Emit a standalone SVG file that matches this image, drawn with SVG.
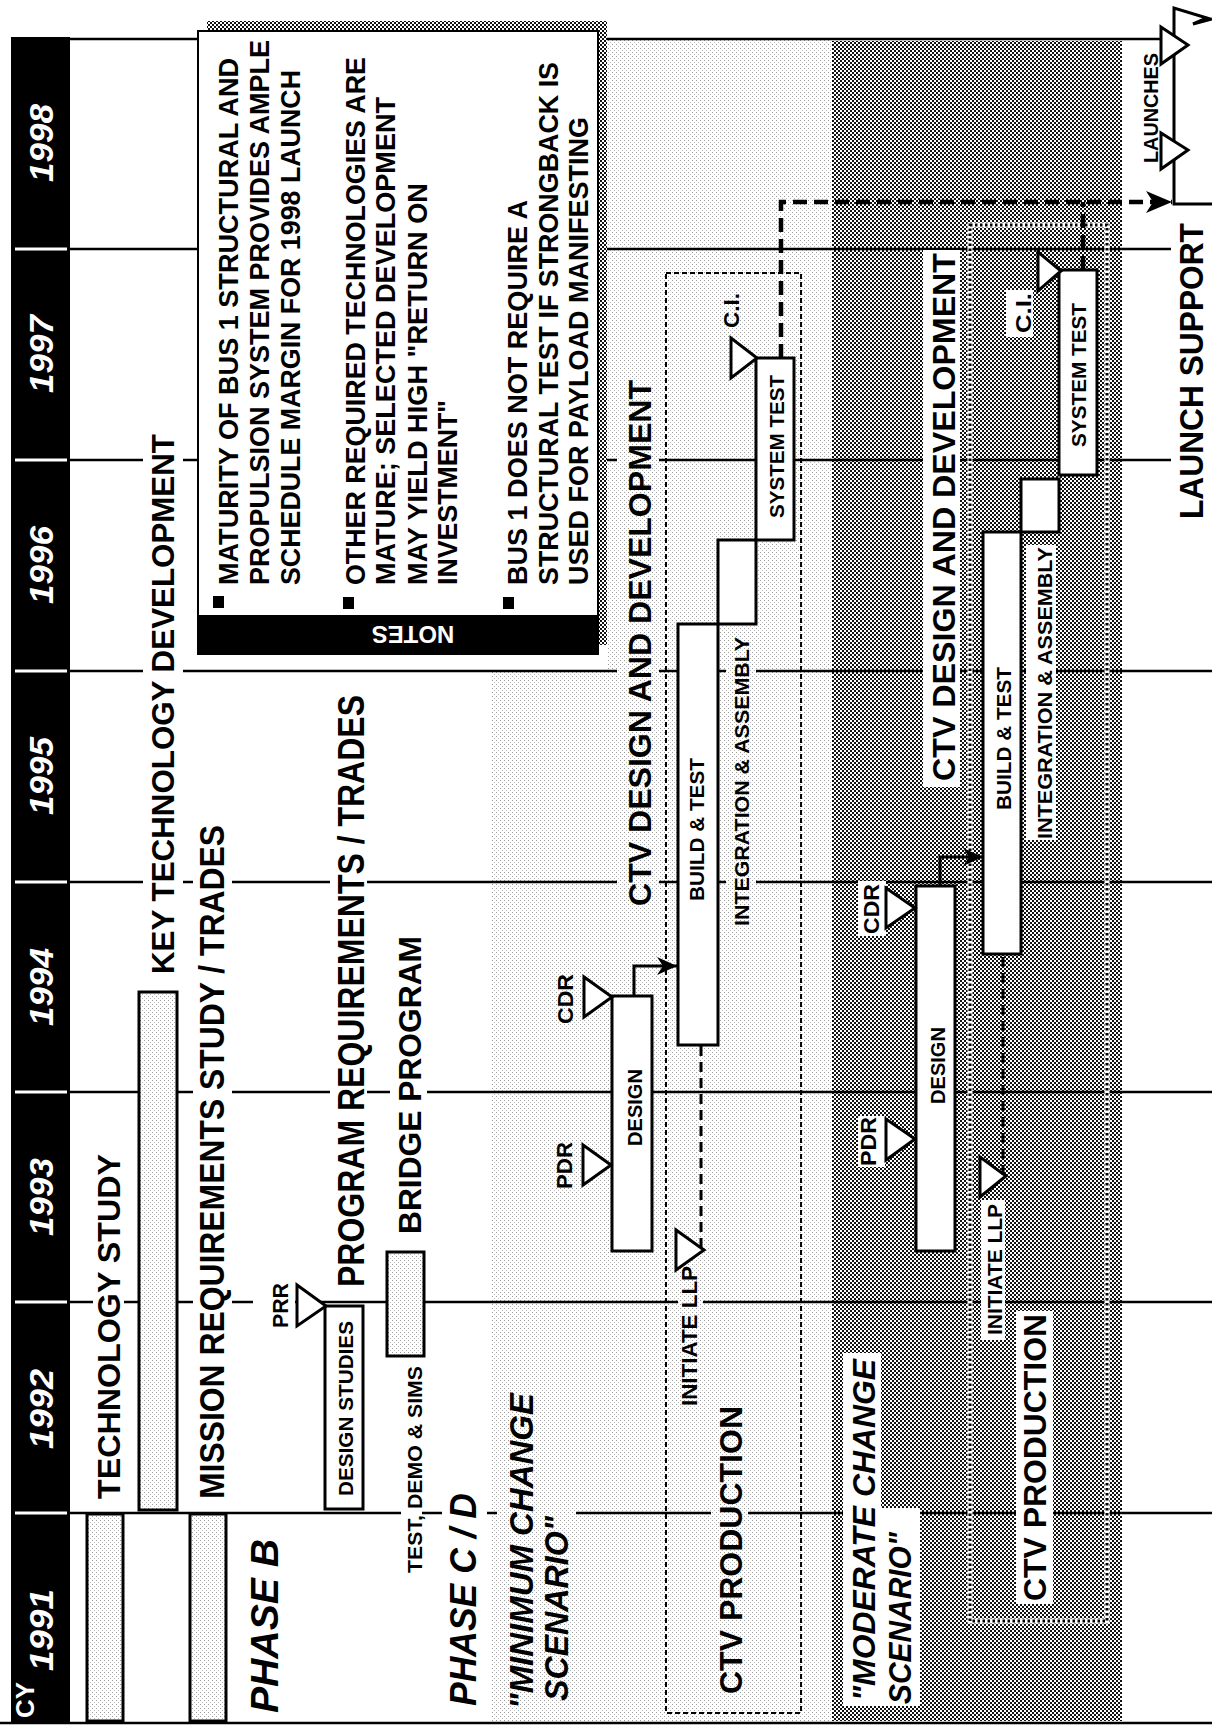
<svg xmlns="http://www.w3.org/2000/svg" width="1212" height="1727" viewBox="0 0 1212 1727">
<defs>
<style>
.t{font-family:"Liberation Sans",Arial,Helvetica,sans-serif;font-weight:bold;fill:#000}
.i{font-style:italic}
.wt{fill:#fff}
.g{stroke:#000;stroke-width:2.5;fill:none}
.bar{stroke:#000;stroke-width:3}
.bw{fill:#fff}
.bl{fill:url(#lt)}
.kw{fill:#fff}
.kl{fill:url(#lt)}
.tri{fill:#fff;stroke:#000;stroke-width:3}
.dash{fill:none;stroke:#000;stroke-width:3;stroke-dasharray:10 6}
.heavy{fill:none;stroke:#000;stroke-width:4.5;stroke-dasharray:14 7}
.arr{fill:none;stroke:#000;stroke-width:3}
</style>
<pattern id="lt" width="4" height="4" patternUnits="userSpaceOnUse"><rect width="4" height="4" fill="#fff"/><rect width="1" height="1" fill="#999"/><rect x="2" y="2" width="1" height="1" fill="#bbb"/></pattern>
<pattern id="dk" width="4" height="4" patternUnits="userSpaceOnUse"><rect width="4" height="4" fill="#fff"/><rect width="2" height="2" fill="#111"/><rect x="2" y="2" width="2" height="2" fill="#111"/></pattern>
<marker id="ah" markerUnits="userSpaceOnUse" viewBox="0 0 20 18" refX="20" refY="9" markerWidth="20" markerHeight="18" orient="auto"><path d="M0,0L20,9L0,18L6,9Z" fill="#000"/></marker>
<marker id="ah2" markerUnits="userSpaceOnUse" viewBox="0 0 26 22" refX="26" refY="11" markerWidth="26" markerHeight="22" orient="auto"><path d="M0,0L26,11L0,22L7,11Z" fill="#000"/></marker>
</defs>
<rect width="1212" height="1727" fill="#fff"/>
<g id="regions">
<path d="M607,39H832V1721H492V672H607Z" fill="url(#lt)"/>
<rect x="832" y="41" width="290" height="1680" fill="url(#dk)"/>
</g>
<g id="grid" class="g">
<line x1="70" y1="39" x2="1161" y2="39"/>
<line x1="70" y1="249" x2="1171" y2="249"/>
<line x1="70" y1="460" x2="1171" y2="460"/>
<line x1="70" y1="671" x2="1212" y2="671"/>
<line x1="70" y1="882" x2="1212" y2="882"/>
<line x1="70" y1="1092" x2="1212" y2="1092"/>
<line x1="70" y1="1302" x2="1212" y2="1302"/>
<line x1="70" y1="1513" x2="1212" y2="1513"/>
<line x1="0" y1="1723" x2="1212" y2="1723"/>
</g>
<g id="years">
<rect x="11" y="37" width="59" height="1687" fill="#000"/>
<path d="M15,249H67M15,460H67M15,671H67M15,882H67M15,1092H67M15,1302H67M15,1513H67" stroke="#fff" stroke-width="3"/>
<text class="t i wt" font-size="34" text-anchor="middle" textLength="78" lengthAdjust="spacingAndGlyphs" x="53" y="143" transform="rotate(-90 53 143)">1998</text>
<text class="t i wt" font-size="34" text-anchor="middle" textLength="78" lengthAdjust="spacingAndGlyphs" x="53" y="354" transform="rotate(-90 53 354)">1997</text>
<text class="t i wt" font-size="34" text-anchor="middle" textLength="78" lengthAdjust="spacingAndGlyphs" x="53" y="565" transform="rotate(-90 53 565)">1996</text>
<text class="t i wt" font-size="34" text-anchor="middle" textLength="78" lengthAdjust="spacingAndGlyphs" x="53" y="776" transform="rotate(-90 53 776)">1995</text>
<text class="t i wt" font-size="34" text-anchor="middle" textLength="78" lengthAdjust="spacingAndGlyphs" x="53" y="987" transform="rotate(-90 53 987)">1994</text>
<text class="t i wt" font-size="34" text-anchor="middle" textLength="78" lengthAdjust="spacingAndGlyphs" x="53" y="1197" transform="rotate(-90 53 1197)">1993</text>
<text class="t i wt" font-size="34" text-anchor="middle" textLength="80" lengthAdjust="spacingAndGlyphs" x="53" y="1409" transform="rotate(-90 53 1409)">1992</text>
<text class="t i wt" font-size="34" text-anchor="middle" textLength="82" lengthAdjust="spacingAndGlyphs" x="53" y="1630" transform="rotate(-90 53 1630)">1991</text>
<text class="t wt" font-size="25" font-weight="normal" text-anchor="middle" textLength="36" lengthAdjust="spacingAndGlyphs" x="34" y="1700" transform="rotate(-90 34 1700)">CY</text>
</g>
<g id="notes">
<rect x="207" y="21" width="400" height="624" fill="url(#dk)"/>
<rect x="198" y="31" width="400" height="623" fill="#fff" stroke="#000" stroke-width="2"/>
<rect x="198" y="615" width="400" height="39" fill="#000"/>
<text class="t wt" font-size="24" text-anchor="middle" transform="translate(413 634) rotate(180)" x="0" y="8.5">NOTES</text>
<rect x="213" y="596" width="11" height="12" fill="#000"/>
<rect x="343" y="597" width="11" height="12" fill="#000"/>
<rect x="503" y="597" width="11" height="12" fill="#000"/>
<text class="t" font-size="27" textLength="527" lengthAdjust="spacingAndGlyphs" x="238" y="585" transform="rotate(-90 238 585)">MATURITY OF BUS 1 STRUCTURAL AND</text>
<text class="t" font-size="27" textLength="545" lengthAdjust="spacingAndGlyphs" x="269" y="585" transform="rotate(-90 269 585)">PROPULSION SYSTEM PROVIDES AMPLE</text>
<text class="t" font-size="27" textLength="515" lengthAdjust="spacingAndGlyphs" x="300" y="585" transform="rotate(-90 300 585)">SCHEDULE MARGIN FOR 1998 LAUNCH</text>
<text class="t" font-size="27" textLength="528" lengthAdjust="spacingAndGlyphs" x="365" y="585" transform="rotate(-90 365 585)">OTHER REQUIRED TECHNOLOGIES ARE</text>
<text class="t" font-size="27" textLength="488" lengthAdjust="spacingAndGlyphs" x="395" y="585" transform="rotate(-90 395 585)">MATURE; SELECTED DEVELOPMENT</text>
<text class="t" font-size="27" textLength="402" lengthAdjust="spacingAndGlyphs" x="427" y="585" transform="rotate(-90 427 585)">MAY YIELD HIGH "RETURN ON</text>
<text class="t" font-size="27" textLength="185" lengthAdjust="spacingAndGlyphs" x="457" y="585" transform="rotate(-90 457 585)">INVESTMENT"</text>
<text class="t" font-size="27" textLength="385" lengthAdjust="spacingAndGlyphs" x="527" y="585" transform="rotate(-90 527 585)">BUS 1 DOES NOT REQUIRE A</text>
<text class="t" font-size="27" textLength="523" lengthAdjust="spacingAndGlyphs" x="558" y="585" transform="rotate(-90 558 585)">STRUCTURAL TEST IF STRONGBACK IS</text>
<text class="t" font-size="27" textLength="468" lengthAdjust="spacingAndGlyphs" x="588" y="585" transform="rotate(-90 588 585)">USED FOR PAYLOAD MANIFESTING</text>
</g>
<g id="technology-study">
<rect class="bar bl" x="87" y="1514" width="36" height="207"/>
<rect class="kw" x="93" y="1148" width="31" height="358"/>
<text class="t" font-size="32" textLength="345" lengthAdjust="spacingAndGlyphs" x="120" y="1499" transform="rotate(-90 120 1499)">TECHNOLOGY STUDY</text>
</g>
<g id="key-technology">
<rect class="bar bl" x="139" y="992" width="38" height="518"/>
<rect class="kw" x="143" y="420" width="40" height="562"/>
<text class="t" font-size="32" textLength="540" lengthAdjust="spacingAndGlyphs" x="174" y="974" transform="rotate(-90 174 974)">KEY TECHNOLOGY DEVELOPMENT</text>
</g>
<g id="mission-requirements">
<rect class="bar bl" x="190" y="1514" width="36" height="207"/>
<rect class="kw" x="193" y="818" width="39" height="688"/>
<text class="t" font-size="35" textLength="674" lengthAdjust="spacingAndGlyphs" x="224" y="1499" transform="rotate(-90 224 1499)">MISSION REQUIREMENTS STUDY / TRADES</text>
</g>
<g id="phase-b">
<text class="t i" font-size="38" textLength="174" lengthAdjust="spacingAndGlyphs" x="278" y="1713" transform="rotate(-90 278 1713)">PHASE B</text>
</g>
<g id="design-studies">
<rect class="bar bw" x="325" y="1306" width="38" height="203"/>
<text class="t" font-size="21" textLength="175" lengthAdjust="spacingAndGlyphs" x="353" y="1496" transform="rotate(-90 353 1496)">DESIGN STUDIES</text>
</g>
<g id="prr">
<rect class="kw" x="253" y="1280" width="42" height="55"/>
<polygon class="tri" points="297,1285 297,1326 326,1306"/>
<text class="t" font-size="22" textLength="45" lengthAdjust="spacingAndGlyphs" x="288" y="1328" transform="rotate(-90 288 1328)">PRR</text>
</g>
<g id="program-requirements">
<rect class="kw" x="330" y="690" width="37" height="605"/>
<text class="t" font-size="36" textLength="592" lengthAdjust="spacingAndGlyphs" x="364" y="1287" transform="rotate(-90 364 1287)">PROGRAM REQUIREMENTS / TRADES</text>
</g>
<g id="bridge-program">
<rect class="bar bl" x="387" y="1252" width="37" height="104"/>
<rect class="kw" x="390" y="930" width="37" height="310"/>
<text class="t" font-size="32" textLength="298" lengthAdjust="spacingAndGlyphs" x="421" y="1234" transform="rotate(-90 421 1234)">BRIDGE PROGRAM</text>
<rect class="kw" x="401" y="1362" width="21" height="215"/>
<text class="t" font-size="21" textLength="207" lengthAdjust="spacingAndGlyphs" x="422" y="1573" transform="rotate(-90 422 1573)">TEST, DEMO &amp; SIMS</text>
</g>
<g id="phase-cd">
<rect class="kw" x="442" y="1488" width="45" height="222"/>
<text class="t i" font-size="37" textLength="213" lengthAdjust="spacingAndGlyphs" x="476" y="1706" transform="rotate(-90 476 1706)">PHASE C / D</text>
</g>
<g id="minimum-change">
<rect class="kl" x="497" y="1388" width="79" height="325"/>
<text class="t i" font-size="33" textLength="316" lengthAdjust="spacingAndGlyphs" x="533" y="1709" transform="rotate(-90 533 1709)">"MINIMUM CHANGE</text>
<text class="t i" font-size="33" textLength="185" lengthAdjust="spacingAndGlyphs" x="568" y="1701" transform="rotate(-90 568 1701)">SCENARIO"</text>
<rect class="kl" x="617" y="372" width="42" height="540"/>
<text class="t" font-size="32" textLength="526" lengthAdjust="spacingAndGlyphs" x="651" y="906" transform="rotate(-90 651 906)">CTV DESIGN AND DEVELOPMENT</text>
</g>
<g id="min-design">
<rect class="bar bw" x="612" y="996" width="40" height="255"/>
<text class="t" font-size="21" textLength="77" lengthAdjust="spacingAndGlyphs" x="642" y="1146" transform="rotate(-90 642 1146)">DESIGN</text>
<polygon class="tri" points="583,1145 583,1185 611,1165"/>
<text class="t" font-size="22" textLength="47" lengthAdjust="spacingAndGlyphs" x="572" y="1189" transform="rotate(-90 572 1189)">PDR</text>
<polygon class="tri" points="584,977 584,1017 612,997"/>
<text class="t" font-size="22" textLength="50" lengthAdjust="spacingAndGlyphs" x="573" y="1024" transform="rotate(-90 573 1024)">CDR</text>
</g>
<g id="min-build-test">
<rect class="bar bw" x="678" y="624" width="40" height="421"/>
<text class="t" font-size="21" textLength="143" lengthAdjust="spacingAndGlyphs" x="704" y="901" transform="rotate(-90 704 901)">BUILD &amp; TEST</text>
</g>
<g id="min-integration">
<rect class="bar bw" x="718" y="540" width="38" height="84"/>
<rect class="kl" x="726" y="630" width="30" height="300"/>
<text class="t" font-size="21" textLength="289" lengthAdjust="spacingAndGlyphs" x="749" y="926" transform="rotate(-90 749 926)">INTEGRATION &amp; ASSEMBLY</text>
</g>
<g id="min-system-test">
<rect class="bar bw" x="756" y="358" width="38" height="182"/>
<text class="t" font-size="21" textLength="143" lengthAdjust="spacingAndGlyphs" x="784" y="518" transform="rotate(-90 784 518)">SYSTEM TEST</text>
<polygon class="tri" points="731,338 731,378 757,358"/>
<text class="t" font-size="22" textLength="35" lengthAdjust="spacingAndGlyphs" x="739" y="328" transform="rotate(-90 739 328)">C.I.</text>
</g>
<g id="min-production">
<rect x="666" y="273" width="135" height="1440" fill="none" stroke="#000" stroke-width="2" stroke-dasharray="5 3"/>
<rect class="kl" x="678" y="1272" width="25" height="138"/>
<polygon class="tri" points="676,1230 676,1270 704,1250"/>
<text class="t" font-size="22" textLength="140" lengthAdjust="spacingAndGlyphs" x="697" y="1406" transform="rotate(-90 697 1406)">INITIATE LLP</text>
<rect class="kl" x="711" y="1400" width="37" height="300"/>
<text class="t" font-size="32" textLength="288" lengthAdjust="spacingAndGlyphs" x="742" y="1694" transform="rotate(-90 742 1694)">CTV PRODUCTION</text>
</g>
<g id="moderate-change">
<rect class="kw" x="843" y="1353" width="38" height="353"/>
<rect class="kw" x="880" y="1508" width="40" height="198"/>
<text class="t i" font-size="32" textLength="342" lengthAdjust="spacingAndGlyphs" x="875" y="1701" transform="rotate(-90 875 1701)">"MODERATE CHANGE</text>
<text class="t i" font-size="32" textLength="172" lengthAdjust="spacingAndGlyphs" x="911" y="1704" transform="rotate(-90 911 1704)">SCENARIO"</text>
<rect class="kw" x="923" y="250" width="37" height="537"/>
<text class="t" font-size="32" textLength="528" lengthAdjust="spacingAndGlyphs" x="955" y="781" transform="rotate(-90 955 781)">CTV DESIGN AND DEVELOPMENT</text>
</g>
<g id="mod-design">
<rect class="bar bw" x="916" y="886" width="39" height="365"/>
<text class="t" font-size="21" textLength="77" lengthAdjust="spacingAndGlyphs" x="945" y="1104" transform="rotate(-90 945 1104)">DESIGN</text>
<rect class="kw" x="858" y="1116" width="27" height="51"/>
<polygon class="tri" points="886,1119 886,1160 915,1139"/>
<text class="t" font-size="22" textLength="49" lengthAdjust="spacingAndGlyphs" x="876" y="1166" transform="rotate(-90 876 1166)">PDR</text>
<rect class="kw" x="858" y="881" width="28" height="55"/>
<polygon class="tri" points="886,888 886,928 915,908"/>
<text class="t" font-size="22" textLength="50" lengthAdjust="spacingAndGlyphs" x="879" y="934" transform="rotate(-90 879 934)">CDR</text>
</g>
<g id="mod-build-test">
<rect class="bar bw" x="983" y="532" width="38" height="422"/>
<text class="t" font-size="21" textLength="143" lengthAdjust="spacingAndGlyphs" x="1011" y="810" transform="rotate(-90 1011 810)">BUILD &amp; TEST</text>
</g>
<g id="mod-integration">
<rect class="bar bw" x="1021" y="479" width="38" height="53"/>
<rect class="kw" x="1026" y="545" width="30" height="295"/>
<text class="t" font-size="21" textLength="292" lengthAdjust="spacingAndGlyphs" x="1052" y="839" transform="rotate(-90 1052 839)">INTEGRATION &amp; ASSEMBLY</text>
</g>
<g id="mod-system-test">
<rect class="bar bw" x="1059" y="270" width="38" height="205"/>
<text class="t" font-size="21" textLength="144" lengthAdjust="spacingAndGlyphs" x="1086" y="447" transform="rotate(-90 1086 447)">SYSTEM TEST</text>
<rect class="kw" x="1006" y="290" width="27" height="47"/>
<polygon class="tri" points="1038,252 1038,291 1061,271"/>
<text class="t" font-size="22" textLength="40" lengthAdjust="spacingAndGlyphs" x="1031" y="333" transform="rotate(-90 1031 333)">C.I.</text>
</g>
<g id="mod-production">
<rect x="970" y="225" width="137" height="1396" fill="none" stroke="#fff" stroke-width="5"/>
<rect x="970" y="225" width="137" height="1396" fill="none" stroke="#000" stroke-width="3" stroke-dasharray="2.5 2.5"/>
<rect class="kw" x="981" y="1200" width="24" height="140"/>
<polygon class="tri" points="980,1157 980,1197 1006,1176"/>
<text class="t" font-size="21" textLength="131" lengthAdjust="spacingAndGlyphs" x="1002" y="1335" transform="rotate(-90 1002 1335)">INITIATE LLP</text>
<rect class="kw" x="1016" y="1311" width="37" height="293"/>
<text class="t" font-size="32" textLength="287" lengthAdjust="spacingAndGlyphs" x="1046" y="1601" transform="rotate(-90 1046 1601)">CTV PRODUCTION</text>
</g>
<g id="launch-support">
<rect class="kw" x="1171" y="215" width="41" height="310"/>
<text class="t" font-size="33" textLength="296" lengthAdjust="spacingAndGlyphs" x="1203" y="519" transform="rotate(-90 1203 519)">LAUNCH SUPPORT</text>
</g>
<g id="launches">
<path d="M1212,204H1174V8L1207,18L1193,24L1212,19" fill="none" stroke="#000" stroke-width="3"/>
<polygon class="tri" points="1161,27 1161,64 1188,45"/>
<polygon class="tri" points="1161,133 1161,169 1188,150"/>
<text class="t" font-size="21" textLength="110" lengthAdjust="spacingAndGlyphs" x="1158" y="163" transform="rotate(-90 1158 163)">LAUNCHES</text>
</g>
<g id="connectors">
<path class="arr" d="M634,996V966H677" marker-end="url(#ah)"/>
<path class="arr" d="M940,886V857H983" marker-end="url(#ah)"/>
<path class="dash" d="M701,1248V1046"/>
<path class="dash" d="M1003,1175V955"/>
<path class="heavy" d="M781,358V202H1172" marker-end="url(#ah2)"/>
<path class="heavy" d="M1083,270V202"/>
</g>
</svg>
